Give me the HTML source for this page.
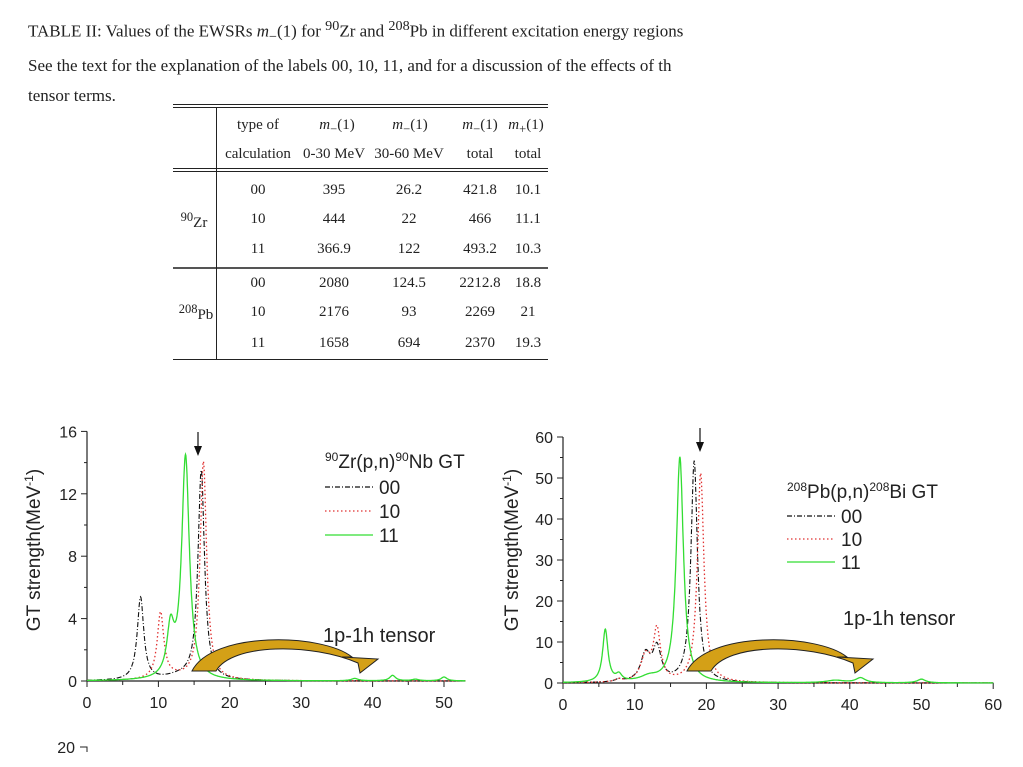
<!DOCTYPE html>
<html><head><meta charset="utf-8"><style>
body{margin:0;width:1023px;height:767px;background:#fff;overflow:hidden;position:relative;font-family:"Liberation Serif",serif;}
.t{position:absolute;white-space:nowrap;color:#222;}
.c{position:absolute;font-size:15px;color:#222;transform:translateX(-50%);white-space:nowrap;}
.hl{position:absolute;height:1px;background:#222;}
svg{position:absolute;left:0;top:0;}
svg text{font-family:"Liberation Sans",sans-serif;fill:#222;}
</style></head><body>
<div class="t" style="left:28px;top:18px;font-size:17px;">TABLE II: Values of the EWSRs <i>m</i><sub>−</sub>(1) for <sup>90</sup>Zr and <sup>208</sup>Pb in different excitation energy regions</div>
<div class="t" style="left:28px;top:56px;font-size:17px;">See the text for the explanation of the labels 00, 10, 11, and for a discussion of the effects of th</div>
<div class="t" style="left:28px;top:86px;font-size:17px;">tensor terms.</div>
<div>
<div class="hl" style="left:173px;top:104px;width:375px;"></div><div class="hl" style="left:173px;top:107px;width:375px;"></div>
<div class="hl" style="left:173px;top:168px;width:375px;"></div><div class="hl" style="left:173px;top:171px;width:375px;"></div>
<div class="hl" style="left:173px;top:267px;width:375px;height:2px;background:#555"></div>
<div class="hl" style="left:173px;top:359px;width:375px;"></div>
<div style="position:absolute;left:216px;top:108px;width:1px;height:252px;background:#222"></div>
<div class="c" style="left:258px;top:117px">type of</div>
<div class="c" style="left:337px;top:117px"><i>m</i><sub>−</sub>(1)</div>
<div class="c" style="left:410px;top:117px"><i>m</i><sub>−</sub>(1)</div>
<div class="c" style="left:480px;top:117px"><i>m</i><sub>−</sub>(1)</div>
<div class="c" style="left:526px;top:117px"><i>m</i><sub>+</sub>(1)</div>
<div class="c" style="left:258px;top:146px">calculation</div>
<div class="c" style="left:334px;top:146px">0-30 MeV</div>
<div class="c" style="left:409px;top:146px">30-60 MeV</div>
<div class="c" style="left:480px;top:146px">total</div>
<div class="c" style="left:528px;top:146px">total</div>
<div class="c" style="left:194px;top:210px"><sup>90</sup>Zr</div>
<div class="c" style="left:196px;top:302px"><sup>208</sup>Pb</div>
<div id="rows"></div>
</div>
<svg width="1023" height="767" id="svg"></svg>
<script>
const tableRows=[["00","395","26.2","421.8","10.1"],["10","444","22","466","11.1"],["11","366.9","122","493.2","10.3"],["00","2080","124.5","2212.8","18.8"],["10","2176","93","2269","21"],["11","1658","694","2370","19.3"]];
const rowTops=[182,211,241,275,304,335];
const colX=[258,334,409,480,528];
const rc=document.getElementById('rows');
tableRows.forEach((r,i)=>r.forEach((v,j)=>{const d=document.createElement('div');d.className='c';d.style.left=colX[j]+'px';d.style.top=rowTops[i]+'px';d.textContent=v;


rc.appendChild(d);}));

// Chart data: peaks [centre MeV, height, half-width]
const zr00=[[7.5,5.3,0.55],[16.0,13.4,0.55],[13,0.25,2.5]];
const zr10=[[10.3,4.2,0.55],[16.3,14.0,0.55],[12,0.2,2.5]];
const zr11=[[11.7,3.0,0.6],[13.8,14.3,0.65],[37.5,0.15,0.6],[42.8,0.35,0.5],[46,0.1,0.6],[50,0.25,0.5]];
const pb00=[[11.5,6.5,0.8],[13.1,8,0.7],[18.3,54,0.55],[7.8,0.6,0.6]];
const pb10=[[11.5,6,0.8],[13.1,12.5,0.6],[19.2,51,0.55],[7.8,0.6,0.6]];
const pb11=[[5.9,12.8,0.45],[7.8,1.6,0.5],[12,1.2,1.5],[16.3,55,0.6],[38,0.6,1.5],[41.5,1.2,0.8],[50,0.9,0.7]];
const zrYTicks=[0,4,8,12,16];
const pbYTicks=[0,10,20,30,40,50,60];
const zrXTicks=[0,10,20,30,40,50];
const pbXTicks=[0,10,20,30,40,50,60];

const NS='http://www.w3.org/2000/svg';
const svg=document.getElementById('svg');
function el(tag,attrs,name,parent){const e=document.createElementNS(NS,tag);for(const k in attrs)e.setAttribute(k,attrs[k]);


(parent||svg).appendChild(e);return e;}
function txt(x,y,s,size,name,anchor){const t=el('text',{x:x,y:y,'font-size':size,'text-anchor':anchor||'start'},name);t.textContent=s;return t;}

function chart(o){
 const X=v=>o.x0+(v-0)*o.sx, Y=v=>o.y0-v*o.sy;
 el('line',{x1:X(0),y1:Y(o.ymax),x2:X(0),y2:Y(0),stroke:'#222','stroke-width':1.2},o.id+'-y-axis');
 el('line',{x1:X(0),y1:Y(0),x2:X(o.xmax),y2:Y(0),stroke:'#222','stroke-width':1.2},o.id+'-x-axis');
 o.yt.forEach(v=>{el('line',{x1:X(0)-6,y1:Y(v),x2:X(0),y2:Y(v),stroke:'#222'},'y-tick');txt(X(0)-10,Y(v)+6,String(v),16,'y-tick-label','end');});
 for(let i=0;i<o.yt.length-1;i++){const m=(o.yt[i]+o.yt[i+1])/2;el('line',{x1:X(0)-3,y1:Y(m),x2:X(0),y2:Y(m),stroke:'#222'},'y-minor-tick');}
 for(let v=0;v<=o.xmax;v+=5){const maj=o.xt.includes(v);el('line',{x1:X(v),y1:Y(0),x2:X(v),y2:Y(0)+(maj?6:4),stroke:'#222'},'x-tick');}
 o.xt.forEach(v=>txt(X(v),Y(0)+27,String(v),16,'x-tick-label','middle'));
 const series=[[o.s00,'#111','5,2,1,2',1.1,'series-00'],[o.s10,'#e03030','1.5,2.5',1.3,'series-10'],[o.s11,'#33dd33','',1.3,'series-11']];
 series.forEach(([pk,col,dash,w,nm])=>{let d='';for(let e=0;e<=o.xmax;e+=0.05){let s=0;pk.forEach(([c,h,g])=>{s+=h*g*g/((e-c)*(e-c)+g*g);});d+=(e===0?'M':'L')+X(e).toFixed(1)+','+Y(Math.min(s,o.ymax)).toFixed(1);}
 el('path',{d:d,fill:'none',stroke:col,'stroke-width':w,'stroke-dasharray':dash},o.id+'-'+nm);});
 const yt=el('text',{x:0,y:0,'font-size':19,'text-anchor':'middle',transform:`translate(${o.ytx},${o.yty}) rotate(-90)`},o.id+'-y-axis-title');
 yt.innerHTML='GT strength(MeV<tspan dy="-7" font-size="12">-1</tspan><tspan dy="7">)</tspan>';
 el('line',{x1:o.ax,y1:o.ay,x2:o.ax,y2:o.ay+20,stroke:'#111','stroke-width':1.2},o.id+'-centroid-arrow');
 el('path',{d:`M${o.ax-4},${o.ay+14} L${o.ax},${o.ay+24} L${o.ax+4},${o.ay+14}Z`,fill:'#111'},o.id+'-centroid-arrowhead');
 const lt=el('text',{x:o.lx,y:o.ly,'font-size':19},o.id+'-legend-title');
 lt.innerHTML=o.title;
 [['00','#111','5,2,1,2'],['10','#e03030','1.5,2.5'],['11','#33dd33','']].forEach(([lab,col,dash],i)=>{const yy=o.ly+o.ld*(i+1)-5;
  el('line',{x1:o.lx,y1:yy,x2:o.lx+48,y2:yy,stroke:col,'stroke-width':1.2,'stroke-dasharray':dash},o.id+'-legend-swatch-'+lab);
  txt(o.lx+54,yy+7,lab,19,o.id+'-legend-label-'+lab);});
 txt(o.tx,o.ty,'1p-1h tensor',20,o.id+'-annotation');
 const a=o.arr;
 el('path',{d:`M${a[0]},${a[1]} C${a[0]+20},${a[1]-40} ${a[0]+130},${a[1]-38} ${a[0]+160},${a[1]-14} L${a[0]+150},${a[1]-14} L${a[0]+186},${a[1]-12} L${a[0]+168},${a[1]+2} L${a[0]+166},${a[1]-8} C${a[0]+120},${a[1]-28} ${a[0]+40},${a[1]-28} ${a[0]+24},${a[1]}Z`,fill:'#d4a017',stroke:'#222','stroke-width':1},o.id+'-tensor-arrow');
}
chart({id:'zr',x0:87,y0:681,sx:7.14,sy:15.6,xmax:53,ymax:16,yt:zrYTicks,xt:zrXTicks,s00:zr00,s10:zr10,s11:zr11,ytx:40,yty:550,ax:198,ay:432,lx:325,ly:468,ld:24,title:'<tspan dy="-7" font-size="12">90</tspan><tspan dy="7">Zr(p,n)</tspan><tspan dy="-7" font-size="12">90</tspan><tspan dy="7">Nb GT</tspan>',tx:323,ty:642,arr:[192,671]});
chart({id:'pb',x0:563,y0:683,sx:7.17,sy:4.1,xmax:60,ymax:60,yt:pbYTicks,xt:pbXTicks,s00:pb00,s10:pb10,s11:pb11,ytx:518,yty:550,ax:700,ay:428,lx:787,ly:498,ld:23,title:'<tspan dy="-7" font-size="12">208</tspan><tspan dy="7">Pb(p,n)</tspan><tspan dy="-7" font-size="12">208</tspan><tspan dy="7">Bi GT</tspan>',tx:843,ty:625,arr:[687,671]});
txt(75,753,'20',16,'cropped-tick-label','end');
el('path',{d:'M80,747 L87,747 L87,752',fill:'none',stroke:'#222'},'cropped-tick');
</script>
</body></html>
